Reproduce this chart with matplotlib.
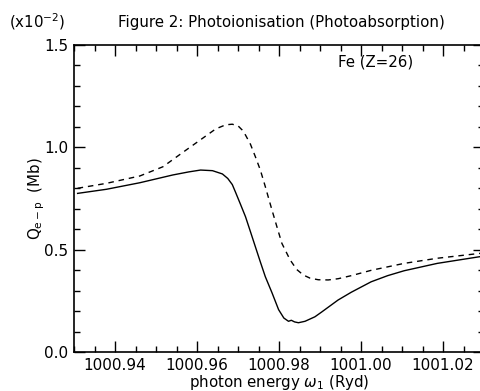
import matplotlib
matplotlib.use("Agg")
import matplotlib.pyplot as plt
from matplotlib.ticker import MultipleLocator, FixedLocator

plt.rcParams['font.family'] = ['DejaVu Sans']
plt.rcParams['mathtext.fontset'] = 'dejavusans'

# Solid curve (units of 1e-2 Mb)
x_solid = [1000.93088, 1000.93790, 1000.94605, 1000.95410, 1000.95800, 1000.96087,
           1000.96377, 1000.96619, 1000.96750, 1000.96861, 1000.96941, 1000.97060,
           1000.97183, 1000.97300, 1000.97424, 1000.97545, 1000.97666, 1000.97828,
           1000.97990, 1000.98118, 1000.98232, 1000.98300, 1000.98380, 1000.98474,
           1000.98634, 1000.98876, 1000.99038, 1000.99441, 1000.99763, 1001.00247,
           1001.00650, 1001.01052, 1001.01860, 1001.02907]
y_solid = [0.775, 0.795, 0.827, 0.865, 0.880, 0.889,
           0.886, 0.870, 0.848, 0.818, 0.780, 0.722,
           0.661, 0.590, 0.514, 0.440, 0.368, 0.290,
           0.207, 0.166, 0.150, 0.155, 0.147, 0.143,
           0.150, 0.172, 0.195, 0.254, 0.292, 0.343,
           0.373, 0.397, 0.433, 0.466]

# Dashed curve
x_dash = [1000.93088, 1000.93790, 1000.94605, 1000.95168, 1000.95652, 1000.96135,
          1000.96457, 1000.96699, 1000.96861, 1000.97006, 1000.97100, 1000.97183,
          1000.97304, 1000.97424, 1000.97545, 1000.97666, 1000.97828, 1000.97949,
          1000.98070, 1000.98271, 1000.98433, 1000.98595, 1000.98755, 1000.98958,
          1000.99200, 1000.99441, 1000.99763, 1001.00247, 1001.01052, 1001.01860,
          1001.02907]
y_dash = [0.800, 0.824, 0.860, 0.905, 0.975, 1.044,
          1.090, 1.110, 1.113, 1.104, 1.085, 1.060,
          1.015, 0.954, 0.889, 0.808, 0.694, 0.612,
          0.531, 0.450, 0.403, 0.376, 0.361, 0.353,
          0.352, 0.358, 0.373, 0.399, 0.433, 0.458,
          0.482]

x_ticks = [1000.94, 1000.96, 1000.98, 1001.00, 1001.02]
x_ticklabels = ["1000.94", "1000.96", "1000.98", "1001.00", "1001.02"]
y_ticks = [0.0, 0.5, 1.0, 1.5]
y_ticklabels = ["0.0", "0.5", "1.0", "1.5"]

fig = plt.figure(figsize=(4.80, 3.91), dpi=100)
ax = fig.add_axes([74/480, 39/391, 410/480, 307/391])

ax.plot(x_solid, y_solid, color='black', lw=1.0, solid_joinstyle='round')
ax.plot(x_dash, y_dash, color='black', lw=1.0, dashes=(4, 3.5))

ax.set_xlim(1000.93, 1001.03)
ax.set_ylim(0.0, 1.5)
ax.xaxis.set_major_locator(FixedLocator(x_ticks))
ax.set_xticklabels(x_ticklabels)
ax.xaxis.set_minor_locator(MultipleLocator(0.005))
ax.yaxis.set_major_locator(FixedLocator(y_ticks))
ax.set_yticklabels(y_ticklabels)
ax.yaxis.set_minor_locator(MultipleLocator(0.1))

ax.tick_params(which='both', direction='in', top=True, right=True, width=1.0, labelsize=11)
ax.tick_params(which='major', length=8, pad=4)
ax.tick_params(which='minor', length=4)
for s in ax.spines.values():
    s.set_linewidth(1.2)

ax.set_xlabel(r"photon energy $\omega_1$ (Ryd)", fontsize=10.8, labelpad=0)
ax.set_ylabel(r"Q$_{\rm e-p}$  (Mb)", fontsize=10.8, labelpad=-2)

fig.text(281/480, 1 - 22/391, "Figure 2: Photoionisation (Photoabsorption)",
         ha='center', va='center', fontsize=10.8)
fig.text(9/480, 1 - 22/391, r"(x10$^{-2}$)", ha='left', va='center', fontsize=10.8)
ax.text(1000.9945, 1.415, "Fe (Z=26)", ha='left', va='center', fontsize=10.8)

fig.savefig("out.png", dpi=100)
